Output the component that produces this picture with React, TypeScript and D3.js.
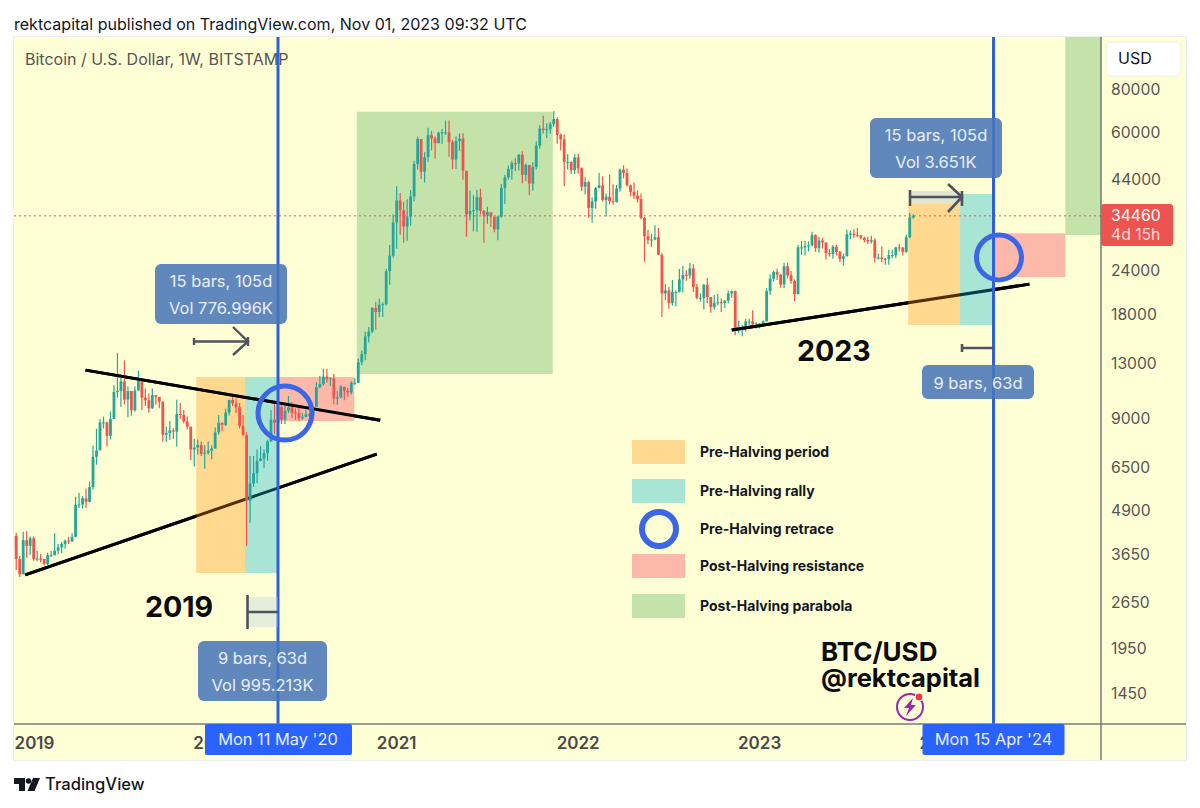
import * as d3 from "d3";

const firstWeek = "2018-11-26";
const firstOpen = 3790;

// weekly bars, Nov 26 2018 -> Oct 30 2023
const weeklyClose = [
  4110, 3530, 3190, 4000, 3850, 4050, 3530, 3540, 3530, 3415, 3620, 3620, 3730, 3815, 3900, 3990, 3970, 4090,
  5060, 5070, 5280, 5160, 5690, 6960, 7260, 8730, 8740, 8000, 8950, 10700, 10780, 11480, 10170, 10770, 9480,
  10800, 11550, 10300, 10130, 9600, 10480, 10360, 10030, 8060, 8150, 8290, 8220, 9250, 9190, 8800, 8500, 7300,
  7400, 7520, 7100, 7150, 7250, 7350, 8180, 8710, 8600, 9330, 10150, 9920, 9660, 8530, 8030, 5200, 5830, 6240,
  6770, 6880, 7130, 7700, 8900, 8720, 9680, 8900, 9450, 9660, 9320, 9300, 9000, 9070, 9230, 9160, 9700, 11050,
  11270, 11850, 11650, 11710, 10250, 10330, 11080, 10780, 10670, 11370, 11370, 13030, 13760, 15480, 15970, 18690,
  18200, 19100, 19170, 23850, 26450, 33000, 38150, 35800, 32100, 34300, 39200, 48600, 57400, 46200, 50900, 58900,
  57600, 55900, 59800, 60000, 60000, 56200, 50100, 56600, 57500, 46500, 34800, 35600, 35800, 39000, 35600, 34500,
  35300, 34300, 31500, 34300, 41500, 44500, 47000, 48900, 48800, 51700, 45200, 48300, 42700, 47700, 54900, 61500,
  60900, 61300, 63300, 65500, 58900, 57200, 49300, 49300, 46700, 50800, 47300, 41800, 43100, 36300, 37900, 41400,
  42200, 38300, 39100, 38000, 37800, 41300, 46800, 45800, 42200, 40400, 39400, 38500, 34000, 30100, 29400, 29450,
  29900, 26600, 20600, 21000, 19300, 20800, 20800, 22600, 23300, 23200, 24300, 21500, 20000, 20000, 21800, 20100,
  18800, 19300, 19400, 19300, 19600, 20600, 20900, 16300, 16300, 16400, 17100, 17100, 16750, 16850, 16550, 17100,
  20900, 22700, 23750, 23300, 21850, 24650, 23200, 22350, 20480, 27950, 27950, 28200, 28340, 30300, 27800, 29250,
  28900, 26900, 26750, 28070, 27100, 25900, 26350, 30500, 30600, 30300, 30280, 29800, 29350, 29050, 29300, 26050,
  26100, 25850, 25900, 26550, 26550, 27950, 27900, 27150, 29900, 34100, 34460,
];
const weeklyHigh = [
  4400, 4200, 3600, 4230, 4250, 4100, 4100, 3730, 3650, 3530, 3680, 3720, 4190, 3900, 3950, 4010, 4090, 4190,
  5340, 5470, 5360, 5640, 5900, 7500, 8380, 8950, 9090, 8800, 9400, 11200, 13880, 12000, 13200, 11100, 10640,
  11100, 12330, 11600, 10950, 10600, 10950, 10470, 10340, 10050, 8500, 8830, 8410, 10170, 9950, 9500, 9100, 8500,
  7850, 7800, 7700, 7520, 7700, 7500, 8450, 9190, 8750, 9570, 10170, 10520, 10250, 9950, 9190, 8180, 7000, 7000,
  7300, 7470, 7300, 7800, 9500, 10070, 9950, 10000, 9800, 10430, 10000, 9600, 9780, 9300, 9480, 9300, 9730, 11420,
  11900, 12480, 12480, 11800, 12050, 10780, 11200, 11000, 10980, 11500, 11720, 13350, 14100, 15970, 16480, 18800,
  19480, 19900, 19400, 24200, 28400, 34800, 41950, 40100, 37800, 38500, 40900, 49700, 58350, 57500, 52600, 61800,
  60600, 58400, 60200, 61300, 64900, 64900, 57000, 58500, 59600, 59600, 46000, 40800, 39500, 41000, 41300, 35800,
  36600, 35000, 34000, 34500, 42600, 45300, 48100, 49700, 50500, 52000, 52900, 48800, 48400, 49200, 56500, 62900,
  67000, 63700, 64300, 69000, 66300, 59500, 59100, 51900, 49500, 51900, 52000, 47500, 44500, 43500, 38900, 41700,
  45800, 44800, 40000, 45400, 42500, 42300, 47200, 48200, 47200, 42400, 43000, 40800, 40000, 34200, 31400, 30600,
  32400, 31800, 26900, 21900, 21500, 22500, 21000, 24200, 24700, 24000, 25200, 25000, 21900, 20600, 21900, 22800,
  19700, 20400, 20500, 19900, 19700, 21000, 21000, 21000, 17200, 16700, 17400, 17400, 18400, 17000, 16900, 17200,
  21300, 23400, 23950, 24250, 23400, 25250, 25250, 23900, 22600, 28400, 29200, 29200, 29100, 31000, 30500, 30000,
  29800, 28500, 27650, 28400, 28450, 27350, 26800, 31400, 31250, 31500, 31800, 30400, 30000, 30000, 30200, 29700,
  26800, 28150, 26100, 27500, 27500, 28050, 28600, 28000, 30400, 35200, 34800,
];
const weeklyLow = [
  3550, 3280, 3130, 3190, 3560, 3630, 3490, 3470, 3450, 3380, 3380, 3580, 3620, 3650, 3670, 3780, 3900, 3950,
  4080, 4950, 4940, 4950, 5140, 5600, 6600, 7500, 8400, 7450, 7800, 8950, 10300, 9700, 9850, 9050, 9150,
  9380, 10950, 9500, 9750, 9320, 9580, 9850, 9600, 7700, 7680, 7780, 7830, 7450, 8950, 8700, 8350, 6800,
  6520, 7050, 7000, 6430, 7050, 6850, 7350, 8050, 8250, 8530, 9150, 9750, 9300, 8400, 8000, 3850, 4500, 5700,
  5850, 6750, 6450, 6780, 7680, 8100, 8220, 8650, 8650, 9300, 9000, 8900, 8830, 8890, 9050, 9050, 9130, 9950,
  10950, 11150, 11380, 11130, 9860, 9820, 10250, 10130, 10370, 10530, 11200, 11400, 12800, 13200, 14850, 15800,
  16200, 17600, 17600, 19000, 21800, 26100, 27700, 30400, 28800, 29200, 32300, 37900, 46900, 44000, 43000, 49300,
  53200, 50400, 55700, 55500, 59000, 51000, 47000, 47000, 53000, 43800, 30000, 33400, 31100, 31000, 34800, 28800,
  32700, 32000, 30900, 29300, 34000, 37300, 43800, 43900, 46300, 46600, 42800, 43400, 39600, 40700, 46900, 53900,
  59500, 57800, 59400, 62300, 55600, 53300, 42000, 46900, 45500, 45500, 45600, 40600, 39700, 34000, 32900, 36200,
  41700, 37900, 34300, 37200, 37100, 37600, 40500, 44200, 41900, 39200, 38600, 37600, 33700, 25400, 28600, 28000,
  29300, 26600, 17600, 19700, 18600, 19000, 18900, 20700, 20700, 22400, 22700, 20800, 19800, 19500, 18500, 19300,
  18100, 18500, 19000, 18200, 18700, 19300, 20000, 15600, 15800, 15500, 16000, 16700, 16500, 16300, 16300, 16500,
  17100, 20400, 22300, 22500, 21400, 21350, 22750, 21950, 19550, 20800, 26600, 26500, 27200, 28100, 27150, 26950,
  27700, 25800, 26300, 25900, 26500, 25350, 24750, 26300, 29500, 29700, 29900, 29500, 28900, 28600, 28700, 25300,
  25800, 25300, 24900, 24900, 26000, 26000, 27200, 26500, 26950, 29700, 33800,
];

const priceTicks = [80000, 60000, 44000, 24000, 18000, 13000, 9000, 6500, 4900, 3650, 2650, 1950, 1450];
const yearTicks = [
  ["2019", "2019-01-07"],
  ["2020", "2020-01-06"],
  ["2021", "2021-01-04"],
  ["2022", "2022-01-03"],
  ["2023", "2023-01-02"],
  ["2024", "2024-01-01"],
];

const lastPrice = 34460;
const halvingDates = ["2020-05-11", "2024-04-15"];
const halvingLabels = ["Mon 11 May '20", "Mon 15 Apr '24"];

// zones: from, to, price top, price bottom, colour key
const zones: [string, string, number, number, string][] = [
  ["2019-11-29", "2020-03-06", 11820, 3216, "orange"],
  ["2020-03-06", "2020-05-11", 11820, 3216, "teal"],
  ["2020-05-11", "2020-10-11", 11820, 8822, "red"],
  ["2020-10-16", "2021-11-13", 68800, 12060, "green"],
  ["2023-10-27", "2024-02-08", 37280, 16690, "orange"],
  ["2024-02-08", "2024-04-15", 39850, 16690, "teal"],
  ["2024-04-15", "2024-09-06", 30690, 22960, "red"],
  ["2024-09-06", "2025-06-01", 120000, 30350, "green"],
];

const trendLines: [string, number, string, number][] = [
  ["2019-04-21", 12370, "2020-12-02", 8864],
  ["2018-12-21", 3176, "2020-11-25", 7086],
  ["2022-11-07", 16150, "2024-06-26", 21900],
];

const retraceCircles: [string, number, number][] = [
  ["2020-05-25", 9300, 27],
  ["2024-04-26", 26150, 22.5],
];

// translucent zones let the trend lines show through, same as the drawing tool does
const zoneFill: Record<string, [string, number]> = {
  orange: ["#ff8c00", 0.33],
  teal: ["#09b4d3", 0.35],
  red: ["#fcb8a8", 1],
  green: ["#c3e3ab", 1],
};

const legendItems = [
  ["Pre-Halving period", "orange"],
  ["Pre-Halving rally", "teal"],
  ["Pre-Halving retrace", "circle"],
  ["Post-Halving resistance", "red"],
  ["Post-Halving parabola", "green"],
];

const bg = "#ffffd6";
const up = "#26a69a";
const down = "#ef5350";
const blue = "#2962ff";
const font = "Inter, 'Noto Sans', sans-serif";

const day = (s: string) => new Date(s + "T00:00:00Z");

const x = d3
  .scaleUtc()
  .domain([day(halvingDates[0]), day(halvingDates[1])])
  .range([278, 993.5]);
const y = d3.scaleLog().domain([1450, 80000]).range([693, 89]);

const bars = weeklyClose.map((close, i) => {
  const date = d3.utcDay.offset(day(firstWeek), i * 7);
  const open = i === 0 ? firstOpen : weeklyClose[i - 1];
  return { date, open, close, high: weeklyHigh[i], low: weeklyLow[i] };
});

const link = d3.line();
const trendPath = ([a, pa, b, pb]: [string, number, string, number]) =>
  link([
    [x(day(a)), y(pa)],
    [x(day(b)), y(pb)],
  ]) as string;

function Tooltip({ box, lines }: { box: number[]; lines: string[] }) {
  const [bx, by, bw, bh] = box;
  return (
    <g>
      <rect x={bx} y={by} width={bw} height={bh} rx={6} fill="#4a76b8" fillOpacity={0.87} />
      {lines.map((t, i) => (
        <text
          key={t}
          x={bx + bw / 2}
          y={by + (lines.length === 1 ? 24 : 23 + i * 27)}
          textAnchor="middle"
          fontSize={16.5}
          fill="#e8eef8"
        >
          {t}
        </text>
      ))}
    </g>
  );
}

export default function App() {
  return (
    <svg
      width={1200}
      height={808}
      style={{ position: "absolute", left: 0, top: 0, fontFamily: font, background: "#fff" }}
    >
      <defs>
        <clipPath id="plot">
          <rect x={14} y={37} width={1087} height={687} />
        </clipPath>
        {/* the lines go over the candles except where a zone tints them */}
        <clipPath id="outsideZones">
          <rect x={14} y={37} width={x(day(zones[0][0])) - 14} height={687} />
          <rect x={x(day(zones[1][1]))} y={37} width={x(day(zones[4][0])) - x(day(zones[1][1]))} height={687} />
          <rect x={x(day(zones[5][1]))} y={37} width={1101 - x(day(zones[5][1]))} height={687} />
        </clipPath>
      </defs>

      <text x={14} y={30} fontSize={16.05} fill="#131722">
        rektcapital published on TradingView.com, Nov 01, 2023 09:32 UTC
      </text>

      <rect x={13.5} y={36.5} width={1173} height={724} fill={bg} stroke="#eeeeee" />

      <g clipPath="url(#plot)">
        {trendLines.map((t) => (
          <path key={t[0]} d={trendPath(t)} stroke="#000" strokeWidth={3} fill="none" />
        ))}
        {zones.map(([a, b, top, bottom, c]) => (
          <rect
            key={a + c}
            x={x(day(a))}
            y={y(top)}
            width={x(day(b)) - x(day(a))}
            height={y(bottom) - y(top)}
            fill={zoneFill[c][0]}
            fillOpacity={zoneFill[c][1]}
          />
        ))}
        <line
          x1={14}
          x2={1101}
          y1={y(lastPrice)}
          y2={y(lastPrice)}
          stroke={down}
          strokeWidth={1}
          strokeDasharray="2 3"
        />
        {bars.map((b) => {
          const color = b.close >= b.open ? up : down;
          const top = y(Math.max(b.open, b.close));
          const bot = y(Math.min(b.open, b.close));
          return (
            <g key={+b.date}>
              <line x1={x(b.date)} x2={x(b.date)} y1={y(b.high)} y2={y(b.low)} stroke={color} strokeWidth={1.2} />
              <rect x={x(b.date) - 1.4} y={top} width={2.8} height={Math.max(bot - top, 1)} fill={color} />
            </g>
          );
        })}
        <path d={trendPath(trendLines[0])} stroke="#000" strokeWidth={3} fill="none" />
        <g clipPath="url(#outsideZones)">
          <path d={trendPath(trendLines[1])} stroke="#000" strokeWidth={3} fill="none" />
          <path d={trendPath(trendLines[2])} stroke="#000" strokeWidth={3} fill="none" />
        </g>
      </g>

      <text x={25} y={65} fontSize={16} fill="#555555">
        Bitcoin / U.S. Dollar, 1W, BITSTAMP
      </text>

      <g clipPath="url(#plot)">
        {halvingDates.map((d) => (
          <line key={d} x1={x(day(d))} x2={x(day(d))} y1={37} y2={724} stroke="#2f5fe0" strokeWidth={3} />
        ))}
        {retraceCircles.map(([d, p, r]) => (
          <circle key={d} cx={x(day(d))} cy={y(p)} r={r} fill="none" stroke="#3c66e8" strokeWidth={5} />
        ))}
      </g>

      {/* date range tools */}
      <g stroke="#50535e" strokeWidth={2.4} fill="none">
        <path d="M194 338V345M194 341.5H248M233 327L248 341.5L233 355M248 337V346" />
        <rect x={247} y={597} width={31} height={30} fill="#b3cfe6" fillOpacity={0.35} stroke="none" />
        <path d="M247.5 595V629M247.5 612H278" strokeWidth={2.6} />
        <rect x={910} y={191} width={52} height={13} fill="#8fa6c8" fillOpacity={0.28} stroke="none" />
        <path d="M910 190V206M910 197H962M948 184L962 197L948 212M962 191V206" strokeWidth={2.6} />
        <path d="M962 344V352M962 348H993" strokeWidth={2.6} />
      </g>

      <Tooltip box={[155, 264, 132, 60]} lines={["15 bars, 105d", "Vol 776.996K"]} />
      <Tooltip box={[198, 641, 129, 60]} lines={["9 bars, 63d", "Vol 995.213K"]} />
      <Tooltip box={[870, 118, 132, 60]} lines={["15 bars, 105d", "Vol 3.651K"]} />
      <Tooltip box={[922, 365, 112, 34]} lines={["9 bars, 63d"]} />

      {/* legend */}
      {legendItems.map(([label, key], i) => {
        const cy = [452, 491, 529, 566, 606][i];
        return (
          <g key={label}>
            {key === "circle" ? (
              <circle cx={659} cy={cy} r={17} fill="none" stroke="#3c66e8" strokeWidth={6} />
            ) : (
              <rect
                x={632}
                y={cy - 12}
                width={53}
                height={24}
                fill={zoneFill[key][0]}
                fillOpacity={zoneFill[key][1]}
              />
            )}
            <text x={700} y={cy + 5} fontSize={14} fontWeight={700} fill="#131722">
              {label}
            </text>
          </g>
        );
      })}

      <g fontWeight={700} fill="#0b0b0b">
        <text x={145} y={617} fontSize={28.6}>2019</text>
        <text x={797} y={361} fontSize={28.6}>2023</text>
        <text x={821} y={661} fontSize={26}>BTC/USD</text>
        <text x={821} y={687} fontSize={25.5}>@rektcapital</text>
      </g>

      {/* boost badge */}
      <circle cx={910} cy={707} r={13} fill="none" stroke="#9c27b0" strokeWidth={2} />
      <path d="M913 698L904 708H909L906 716L916 705H911Z" fill="#9c27b0" />
      <circle cx={919} cy={697} r={4} fill="#f23645" stroke={bg} strokeWidth={1} />

      {/* axes */}
      <line x1={1101} x2={1101} y1={37} y2={760} stroke="#6f6f6a" strokeWidth={1.4} />
      <line x1={14} x2={1186} y1={724} y2={724} stroke="#7a7a74" strokeWidth={1.6} />

      {priceTicks.map((p) => (
        <text key={p} x={1111} y={y(p) + 6} fontSize={15.7} fill="#555555">
          {p}
        </text>
      ))}

      {yearTicks.map(([label, d]) => (
        <text
          key={label}
          x={Math.max(x(day(d)), 34.5)}
          y={749}
          textAnchor="middle"
          fontSize={17}
          fontWeight={600}
          fill="#4a4a4a"
        >
          {label}
        </text>
      ))}

      {halvingDates.map((d, i) => {
        const [left, w] = [[73, 147], [71, 142]][i];
        return (
          <g key={d}>
            <rect x={x(day(d)) - left} y={724} width={w} height={31} rx={2} fill={blue} />
            <text x={x(day(d))} y={745} textAnchor="middle" fontSize={16.4} fill="#e8eeff">
              {halvingLabels[i]}
            </text>
          </g>
        );
      })}

      <rect x={1106} y={42} width={75} height={34} rx={5} fill="#fff" stroke="#f0f0e0" />
      <text x={1118} y={64} fontSize={16} fill="#131722">USD</text>

      <rect x={1101} y={204} width={72} height={42} rx={3} fill={down} />
      <text x={1111} y={221} fontSize={15.7} fill="#fff">{lastPrice}</text>
      <text x={1111} y={240} fontSize={15.7} fill="#ffd9d6">4d 15h</text>

      {/* footer mark */}
      <path d="M14 778H25V791H19V784H14Z M33 778H40L34.5 791H27.5Z" fill="#131722" />
      <circle cx={28.5} cy={781} r={2.8} fill="#131722" />
      <text x={45} y={790} fontSize={16.6} fontWeight={500} fill="#131722">TradingView</text>
    </svg>
  );
}
